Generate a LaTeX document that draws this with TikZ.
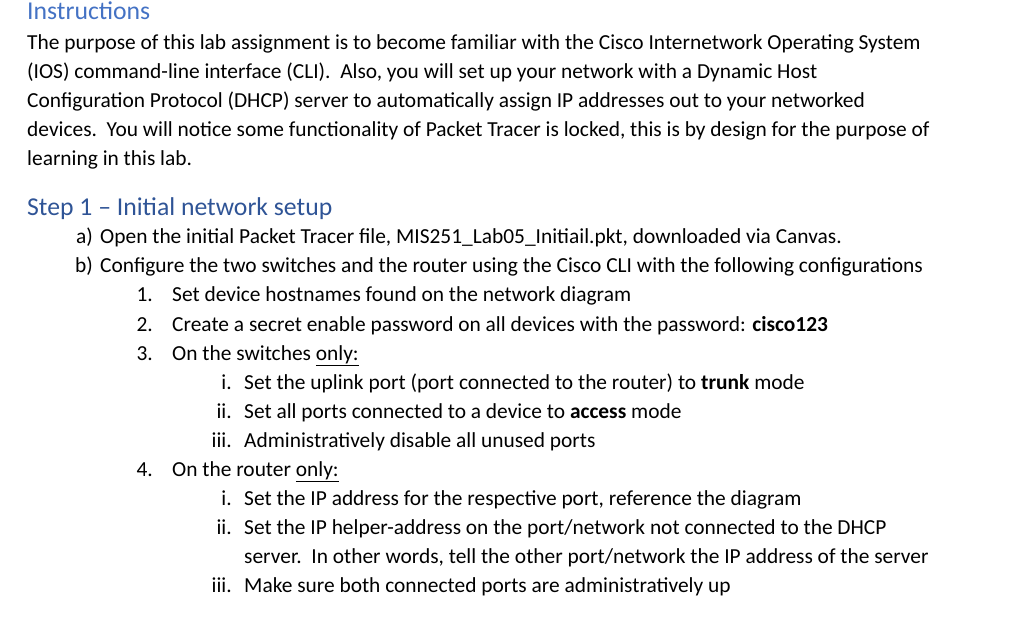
\documentclass[tikz,border=0pt]{standalone}
\usepackage{fontspec}
\setmainfont{Carlito}
\definecolor{hd}{RGB}{47,84,150}
\definecolor{hd1}{RGB}{68,114,196}
\begin{document}
\begin{tikzpicture}[x=1pt,y=-1pt,
  t/.style={anchor=base west,inner sep=0pt,font=\fontsize{21.4}{25}\selectfont},
  r/.style={anchor=base east,inner sep=0pt,font=\fontsize{21.4}{25}\selectfont},
  h/.style={anchor=base west,inner sep=0pt,font=\fontsize{25.7}{29}\selectfont}]
\useasboundingbox (0,0) rectangle (1022,617);
\node[h,text=hd1] (h1) at (27,20) {Instructions};
\node[t] (p1) at (27,50) {The purpose of this lab assignment is to become familiar with the Cisco Internetwork Operating System};
\node[t] (p2) at (27,79) {(IOS) command-line interface (CLI).\ \ Also, you will set up your network with a Dynamic Host};
\node[t] (p3) at (27,108) {Configuration Protocol (DHCP) server to automatically assign IP addresses out to your networked};
\node[t] (p4) at (27,137) {devices.\ \ You will notice some functionality of Packet Tracer is locked, this is by design for the purpose of};
\node[t] (p5) at (27,166) {learning in this lab.};
\node[h,text=hd] (h2) at (27,216) {Step 1 -- Initial network setup};
\node[r] (la) at (93,244) {a)};
\node[t] (ta) at (100,244) {Open the initial Packet Tracer file, MIS251\_Lab05\_Initiail.pkt, downloaded via Canvas.};
\node[r] (lb) at (93,273) {b)};
\node[t] (tb) at (100,273) {Configure the two switches and the router using the Cisco CLI with the following configurations};
\node[r] (l1) at (153,302) {1.};
\node[t] (t1) at (172,302) {Set device hostnames found on the network diagram};
\node[r] (l2) at (153,331) {2.};
\node[t] (t2) at (172,331) {Create a secret enable password on all devices with the password: \textbf{cisco123}};
\node[r] (l3) at (153,360) {3.};
\node[t] (t3) at (172,360) {On the switches \underline{only:}};
\node[r] (l3i) at (232,389) {i.};
\node[t] (t3i) at (244,389) {Set the uplink port (port connected to the router) to \textbf{trunk} mode};
\node[r] (l3ii) at (232,418) {ii.};
\node[t] (t3ii) at (244,418) {Set all ports connected to a device to \textbf{access} mode};
\node[r] (l3iii) at (232,447) {iii.};
\node[t] (t3iii) at (244,447) {Administratively disable all unused ports};
\node[r] (l4) at (153,476) {4.};
\node[t] (t4) at (172,476) {On the router \underline{only:}};
\node[r] (l4i) at (232,505) {i.};
\node[t] (t4i) at (244,505) {Set the IP address for the respective port, reference the diagram};
\node[r] (l4ii) at (232,534) {ii.};
\node[t] (t4ii) at (244,534) {Set the IP helper-address on the port/network not connected to the DHCP};
\node[t] (t4iib) at (244,563) {server.\ \ In other words, tell the other port/network the IP address of the server};
\node[r] (l4iii) at (232,592) {iii.};
\node[t] (t4iii) at (244,592) {Make sure both connected ports are administratively up};
\end{tikzpicture}
\end{document}
